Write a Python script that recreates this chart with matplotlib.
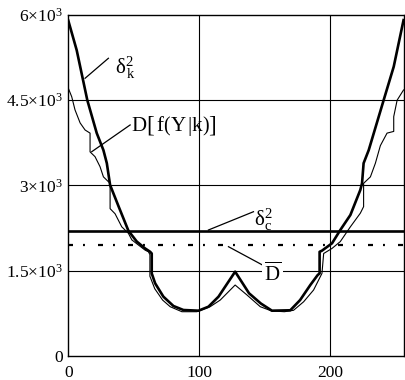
import matplotlib
matplotlib.use("Agg")
import matplotlib.pyplot as plt

plt.rcParams['font.family'] = ['Liberation Serif', 'DejaVu Serif']
plt.rcParams['mathtext.fontset'] = 'custom'
plt.rcParams['mathtext.rm'] = 'Liberation Serif'
plt.rcParams['mathtext.it'] = 'Liberation Serif'
plt.rcParams['mathtext.bf'] = 'Liberation Serif:bold'
plt.rcParams['lines.scale_dashes'] = False

# delta^2_k (thick curve)
thick_x = [0, 6.4, 14.5, 21.7, 26.8, 29.4, 31.9, 38.2, 45.9, 52.3, 58.6, 62.5, 63.7, 63.7,
           66.3, 72.6, 80.3, 87.9, 99.4, 107, 114.7, 127.4, 138, 147, 155.5, 169.5, 177,
           184.8, 190.4, 191.9, 191.9, 193.7, 201.4, 207.7, 215.4, 223, 224.3, 225.5,
           229.4, 240.8, 248.5, 256]
thick_y = [5900, 5380, 4500, 3920, 3620, 3390, 3006, 2640, 2200, 2010, 1890, 1830, 1800, 1450,
           1275, 1040, 875, 805, 793, 863, 1040, 1480, 1100, 920, 793, 800, 980,
           1245, 1420, 1450, 1830, 1850, 1980, 2214, 2478, 2920, 3036, 3390,
           3620, 4500, 5090, 5910]

# D[f(Y|k)] (thin curve)
thin_x = [0, 2.6, 5.1, 9, 12.8, 16.6, 16.6, 20.4, 24.2, 26.8, 30.6, 31.9, 31.9, 35.7, 40.8,
          45.9, 48.5, 53.5, 58.6, 61.2, 62.3, 62.3, 66, 72, 77.8, 86.7, 98.2, 108.3, 116,
          127.4, 136.4, 146.6, 155, 165, 172, 179.7, 187.3, 193.7, 195, 201.4, 207.7, 215.4,
          223, 225.5, 225.5, 230.7, 234.5, 238.3, 243.4, 248.5, 248.5, 251.1, 256]
thin_y = [4710, 4560, 4330, 4100, 3975, 3920, 3590, 3505, 3330, 3150, 3065, 3040, 2590, 2500, 2270,
          2155, 2040, 1950, 1860, 1830, 1780, 1400, 1180, 980, 863, 775, 775, 863, 980,
          1245, 1070, 863, 790, 775, 800, 950, 1157, 1450, 1800, 1890, 2010, 2270,
          2510, 2625, 3036, 3150, 3390, 3700, 3920, 3950, 4210, 4500, 4680]

delta_c2 = 2200
d_mean = 1950

x_ticks = [0, 100, 200]
y_ticks = [0, 1500, 3000, 4500, 6000]
y_labels = ['0', '1.5\u00d710$^{3}$', '3\u00d710$^{3}$', '4.5\u00d710$^{3}$', '6\u00d710$^{3}$']

fig = plt.figure(figsize=(4.05, 3.8), dpi=100)
ax = fig.add_axes([0.1687, 0.0639, 0.8277, 0.8966])

for xv in x_ticks[1:]:
    ax.axvline(xv, color='black', lw=0.8, zorder=1)
for yv in y_ticks[1:-1]:
    ax.axhline(yv, color='black', lw=0.8, zorder=1)

ax.plot(thin_x, thin_y, color='black', lw=0.8, zorder=3)
ax.plot(thick_x, thick_y, color='black', lw=1.9, zorder=4)
ax.axhline(delta_c2, color='black', lw=1.9, zorder=4)
ax.axhline(d_mean, color='black', lw=1.6, ls=(0, (3.6, 7.2, 1.4, 9.4)), zorder=4)

# annotations
ax.plot([12.8, 30.6], [4886, 5238], color='black', lw=0.9)
ax.text(36, 5080, '\u03b4$^{2}_{\\,\\mathrm{k}}$', fontsize=15, va='center', ha='left')
ax.plot([17.9, 47.2], [3593, 4064], color='black', lw=0.9)
ax.text(47.5, 4040,
        r'$\mathrm{D}\left[\,\mathrm{f}\left(\mathrm{Y}\,|\mathrm{k}\right)\right]$',
        fontsize=15, va='center', ha='left')
ax.plot([107, 141.4], [2214, 2536], color='black', lw=0.9)
ax.text(142, 2400, '\u03b4$^{2}_{\\mathrm{c}}$', fontsize=15, va='center', ha='left')
ax.plot([122.3, 152.9], [1920, 1540], color='black', lw=0.9)
ax.text(155.7, 1430, r'$\overline{\mathrm{D}}$', fontsize=15, va='center', ha='center',
        bbox=dict(facecolor='white', edgecolor='none', pad=1.5), zorder=5)

ax.set_xlim(0, 256)
ax.set_ylim(0, 6000)
ax.set_xticks(x_ticks)
ax.set_xticklabels([str(v) for v in x_ticks])
ax.set_yticks(y_ticks)
ax.set_yticklabels(y_labels)
ax.tick_params(length=0, labelsize=12.5)
ax.tick_params(axis='x', pad=7)
ax.tick_params(axis='y', pad=4)
for s in ax.spines.values():
    s.set_linewidth(1.0)

fig.savefig('out.png', dpi=100)
